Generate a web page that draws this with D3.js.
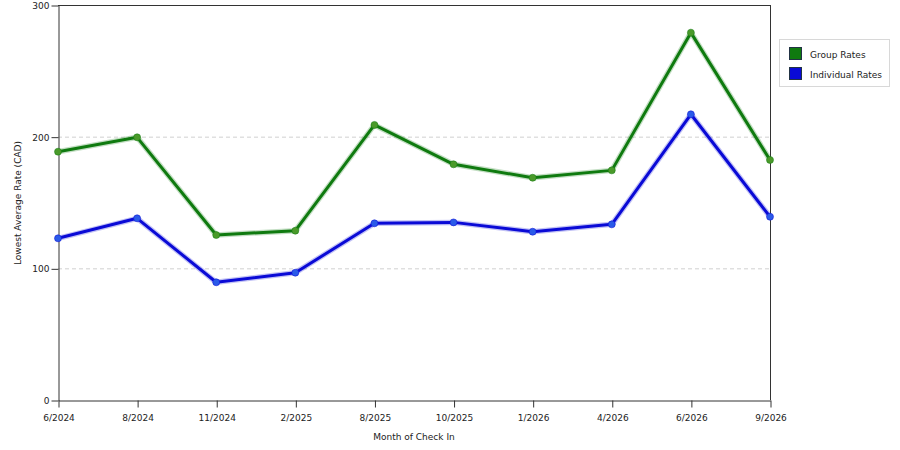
<!DOCTYPE html>
<html><head><meta charset="utf-8">
<script src="https://cdn.jsdelivr.net/npm/d3@7"></script>
<style>body{margin:0;background:#fff;}svg{display:block;font-family:"DejaVu Sans",Verdana,sans-serif;}</style>
</head><body><svg id="c" width="900" height="450"></svg>
<script>
const months = ["6/2024","8/2024","11/2024","2/2025","8/2025","10/2025","1/2026","4/2026","6/2026","9/2026"];
const groupRates = [188.6,199.5,125.3,128.6,208.9,179.0,168.8,174.4,279.0,182.3];
const individualRates = [122.8,138.0,89.4,96.7,134.2,134.9,127.8,133.4,217.0,139.2];
const yTicks = [0,100,200,300];
const seriesNames = ["Group Rates","Individual Rates"];
const seriesColors = ["#0f7a0f","#0a0ad6"];
const markerFill = ["#4a9a2a","#2a5ae8"];

const svg = d3.select("#c");
const L=58,R=770,T=5,B=400;
const x = d3.scalePoint().domain(months).range([L,R]);
const y = d3.scaleLinear().domain([0,300]).range([B,T]);

// grid
svg.append("g").selectAll("line").data([100,200]).join("line")
  .attr("x1",L).attr("x2",R).attr("y1",d=>y(d)+0.5).attr("y2",d=>y(d)+0.5)
  .attr("stroke","#d0d0d0").attr("stroke-dasharray","4,3");
// frame top/right
svg.append("line").attr("x1",L).attr("x2",R+0.5).attr("y1",T+0.5).attr("y2",T+0.5).attr("stroke","#333");
svg.append("line").attr("x1",R+0.5).attr("x2",R+0.5).attr("y1",T).attr("y2",B).attr("stroke","#333");

const xa = svg.append("g").attr("transform",`translate(0.5,${B+0.5})`)
  .call(d3.axisBottom(x).tickSize(7).tickPadding(5).tickSizeOuter(0));
const ya = svg.append("g").attr("transform",`translate(${L+0.5},0.5)`)
  .call(d3.axisLeft(y).tickValues(yTicks).tickSize(7).tickPadding(2).tickSizeOuter(0));
[xa,ya].forEach(a=>{a.select(".domain").attr("stroke","#333");a.selectAll(".tick line").attr("stroke","#333");
  a.selectAll("text").attr("font-family","DejaVu Sans, sans-serif").attr("font-size",9).attr("fill","#222");});
xa.selectAll("text").attr("dy","0.9em");

svg.append("text").attr("x",414).attr("y",440).attr("text-anchor","middle").attr("font-size",9).attr("fill","#222").text("Month of Check In");
svg.append("text").attr("transform","translate(21,203) rotate(-90)").attr("text-anchor","middle").attr("font-size",9).attr("fill","#222").text("Lowest Average Rate (CAD)");

const data=[groupRates,individualRates];
const line=d3.line().x((d,i)=>x(months[i])).y(d=>y(d));
data.forEach((vals,k)=>{
  svg.append("path").datum(vals).attr("d",line).attr("fill","none")
    .attr("stroke",seriesColors[k]).attr("stroke-opacity",0.25).attr("stroke-width",5.5).attr("stroke-linejoin","round");
  svg.append("path").datum(vals).attr("d",line).attr("fill","none")
    .attr("stroke",seriesColors[k]).attr("stroke-width",3).attr("stroke-linejoin","round");
  svg.append("g").selectAll("circle").data(vals).join("circle")
    .attr("cx",(d,i)=>x(months[i])).attr("cy",d=>y(d)).attr("r",3.5)
    .attr("fill",markerFill[k]).attr("stroke",seriesColors[k]).attr("stroke-opacity",0.5).attr("stroke-width",1);
});

// legend
const lg=svg.append("g");
lg.append("rect").attr("x",779.5).attr("y",39.5).attr("width",110).attr("height",47).attr("fill","#fff").attr("stroke","#d8d8d8");
seriesNames.forEach((n,i)=>{
  lg.append("rect").attr("x",789.5).attr("y",47.5+i*20).attr("width",12).attr("height",12).attr("fill",seriesColors[i]).attr("stroke","#234");
  lg.append("text").attr("x",810).attr("y",57.5+i*20).attr("font-size",9).attr("fill","#222").text(n);
});
</script></body></html>
